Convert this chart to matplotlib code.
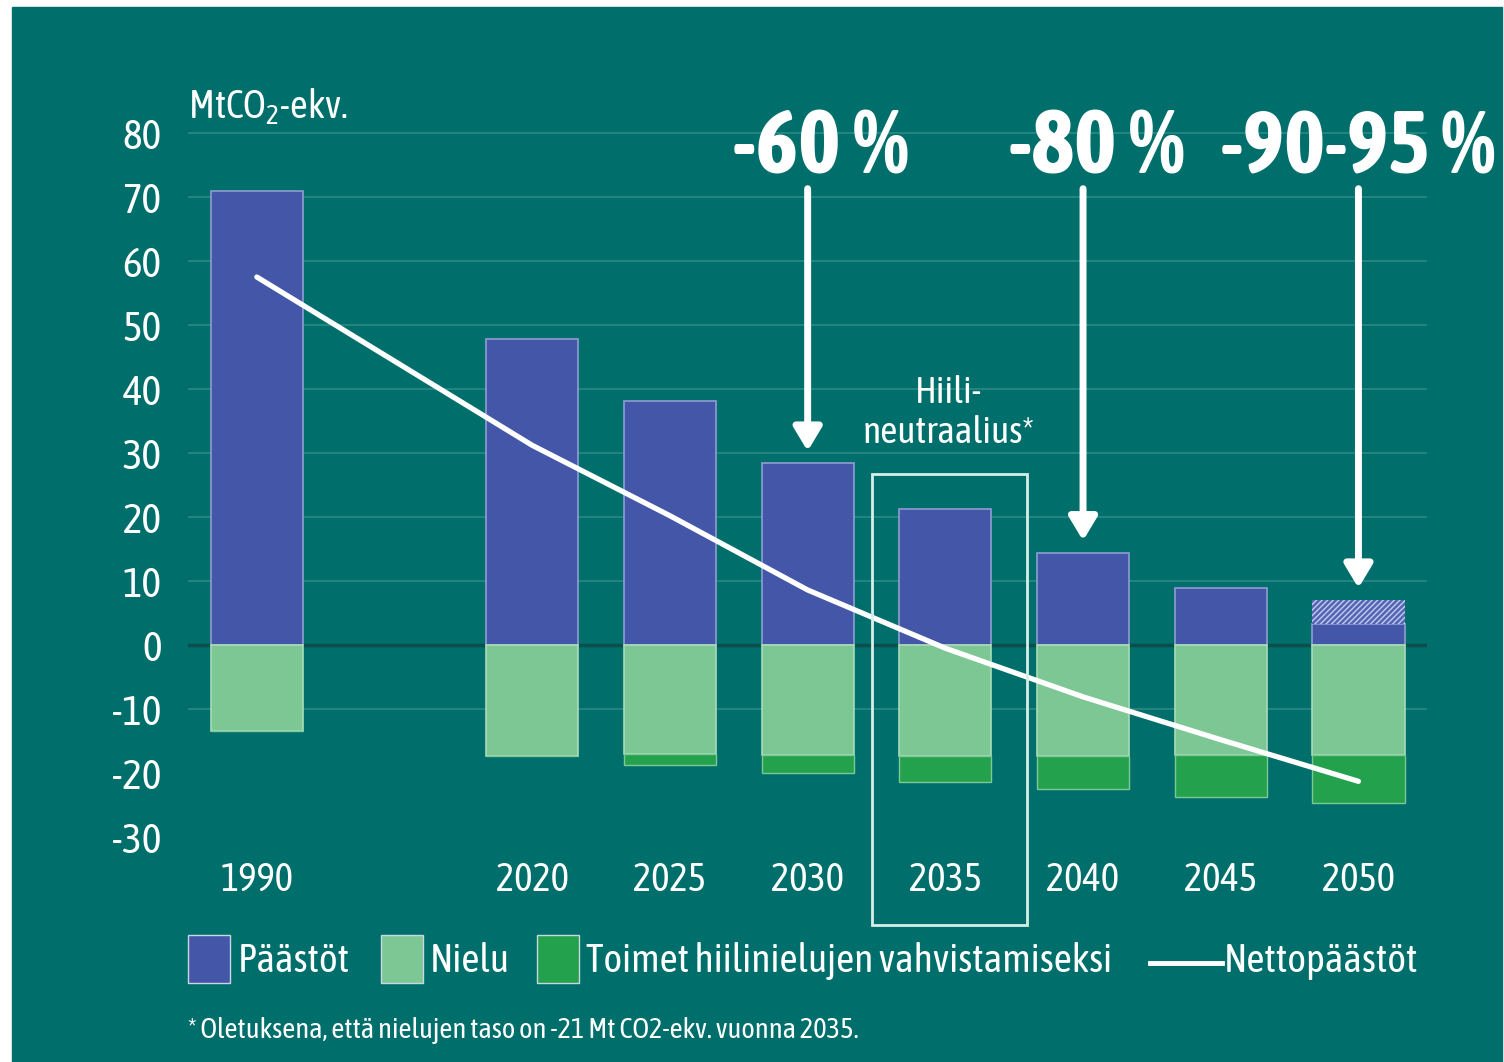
import numpy as np
import matplotlib.pyplot as plt
from matplotlib.patches import Rectangle
from matplotlib.lines import Line2D

fonts = ['Asap Condensed', 'PT Sans Narrow', 'Liberation Sans Narrow', 'Liberation Sans', 'DejaVu Sans']
plt.rcParams['font.family'] = fonts
plt.rcParams['mathtext.fontset'] = 'custom'
plt.rcParams['mathtext.rm'] = fonts[0]
plt.rcParams['mathtext.it'] = fonts[0]

years = ['1990', '2020', '2025', '2030', '2035', '2040', '2045', '2050']
paastot = [71.0, 47.8, 38.1, 28.4, 21.3, 14.4, 8.9, 3.3]
paastot_hatch = [0, 0, 0, 0, 0, 0, 0, 3.7]
nielu = [-13.4, -17.3, -17.1, -17.2, -17.3, -17.3, -17.2, -17.2]
toimet = [0, 0, -1.6, -2.8, -4.1, -5.2, -6.5, -7.5]
netto = [57.5, 31.2, 20.2, 8.6, -0.5, -8.1, -14.8, -21.3]
arrow_years = ['2030', '2040', '2050']
arrow_labels = ['-60 %', '-80 %', '-90-95 %']

teal = '#006f6b'
blue = '#4356a8'
lgreen = '#7dc795'
dgreen = '#24a14c'
white = 'white'

# 1990 separated from the rest by one empty slot
x = np.array([0] + list(range(2, len(years) + 1)), dtype=float)
w = 0.67

fig = plt.figure(figsize=(15.04, 10.62), dpi=100, facecolor='white')
fig.patches.append(Rectangle((12 / 1504, 0), 1490 / 1504, 1055 / 1062,
                             transform=fig.transFigure, color=teal, zorder=-10))

ax = fig.add_axes([0.125, 0.1998, 0.824, 0.687])
ax.set_facecolor('none')
ax.set_xlim(-0.5, 8.5)
ax.set_ylim(-32, 82)

for g in range(-10, 81, 10):
    if g == 0:
        continue
    ax.axhline(g, color='#2a8a85', lw=1.2, zorder=0)
ax.axhline(0, color='#0b4f4c', lw=2.5, zorder=0)

ax.bar(x, paastot, w, color=blue, edgecolor='#8e9ed3', lw=1.2, zorder=2)
ax.bar(x, paastot_hatch, w, bottom=paastot, color='#5466b3',
       edgecolor='#c4ccee', hatch='//////', lw=0, zorder=2)
ax.bar(x, nielu, w, color=lgreen, edgecolor='#a9dcb8', lw=1.2, zorder=2)
ax.bar(x, toimet, w, bottom=nielu, color=dgreen, edgecolor='#7cc997', lw=1.0, zorder=2)

ax.plot(x, netto, color=white, lw=3.8, solid_capstyle='round', zorder=3)

ax.set_yticks(range(-30, 81, 10))
ax.set_yticklabels([str(v) for v in range(-30, 81, 10)])
ax.set_xticks(x)
ax.set_xticklabels(years)
ax.tick_params(axis='y', length=0, pad=19, labelsize=30, labelcolor=white)
ax.tick_params(axis='x', length=0, pad=8, labelsize=28, labelcolor=white)
for s in ax.spines.values():
    s.set_visible(False)

ax.text(-0.5, 82.2, 'MtCO$_2$-ekv.', fontsize=28, color=white,
        ha='left', va='baseline', clip_on=False)

# percentage arrows
tops = {y: p + h for y, p, h in zip(years, paastot, paastot_hatch)}
for yr, lab in zip(arrow_years, arrow_labels):
    xi = x[years.index(yr)]
    ax.annotate('', xy=(xi, tops[yr] + 1.9), xytext=(xi, 71.3),
                arrowprops=dict(arrowstyle='-|>,head_length=0.7,head_width=0.42',
                                lw=5, color=white, shrinkA=0, shrinkB=0,
                                mutation_scale=20), zorder=4)
    if lab == '-90-95 %':
        ax.text(xi - 1.0, 73.6, lab, fontsize=63, fontweight='bold',
                color=white, ha='left', va='baseline', clip_on=False)
    else:
        ax.text(xi + 0.1, 73.6, lab, fontsize=65, fontweight='bold',
                color=white, ha='center', va='baseline', clip_on=False)

# carbon neutrality box around 2035
xc = x[years.index('2035')]
ax.add_patch(Rectangle((xc - 0.53, -43.8), 1.12, 70.5, fill=False,
                       edgecolor='#d6efe8', lw=2, clip_on=False, zorder=5))
ax.text(xc + 0.02, 36.2, 'Hiili-\nneutraalius*', fontsize=27, color=white,
        ha='center', va='center', multialignment='center', linespacing=1.15)

# legend drawn by hand in figure pixels
H, W = 1062, 1504
leg = [('Päästöt', blue, 188, 238), ('Nielu', lgreen, 381, 430),
       ('Toimet hiilinielujen vahvistamiseksi', dgreen, 537, 586)]
for lab, col, px, tx in leg:
    fig.patches.append(Rectangle((px / W, 1 - 983 / H), 42 / W, 48 / H,
                                 transform=fig.transFigure, facecolor=col,
                                 edgecolor='#c8d8e0', lw=1))
    fig.text(tx / W, 1 - 961 / H, lab, fontsize=28.5, color=white,
             ha='left', va='center')
fig.add_artist(Line2D([1150 / W, 1222 / W], [1 - 963 / H, 1 - 963 / H],
                      transform=fig.transFigure, color=white, lw=3.5))
fig.text(1224 / W, 1 - 961 / H, 'Nettopäästöt', fontsize=28.5, color=white,
         ha='left', va='center')

fig.text(188 / W, 1 - 1030 / H,
         '* Oletuksena, että nielujen taso on -21 Mt CO2-ekv. vuonna 2035.',
         fontsize=20.5, color=white, ha='left', va='center')

fig.savefig('out.png', dpi=100, facecolor=fig.get_facecolor())
